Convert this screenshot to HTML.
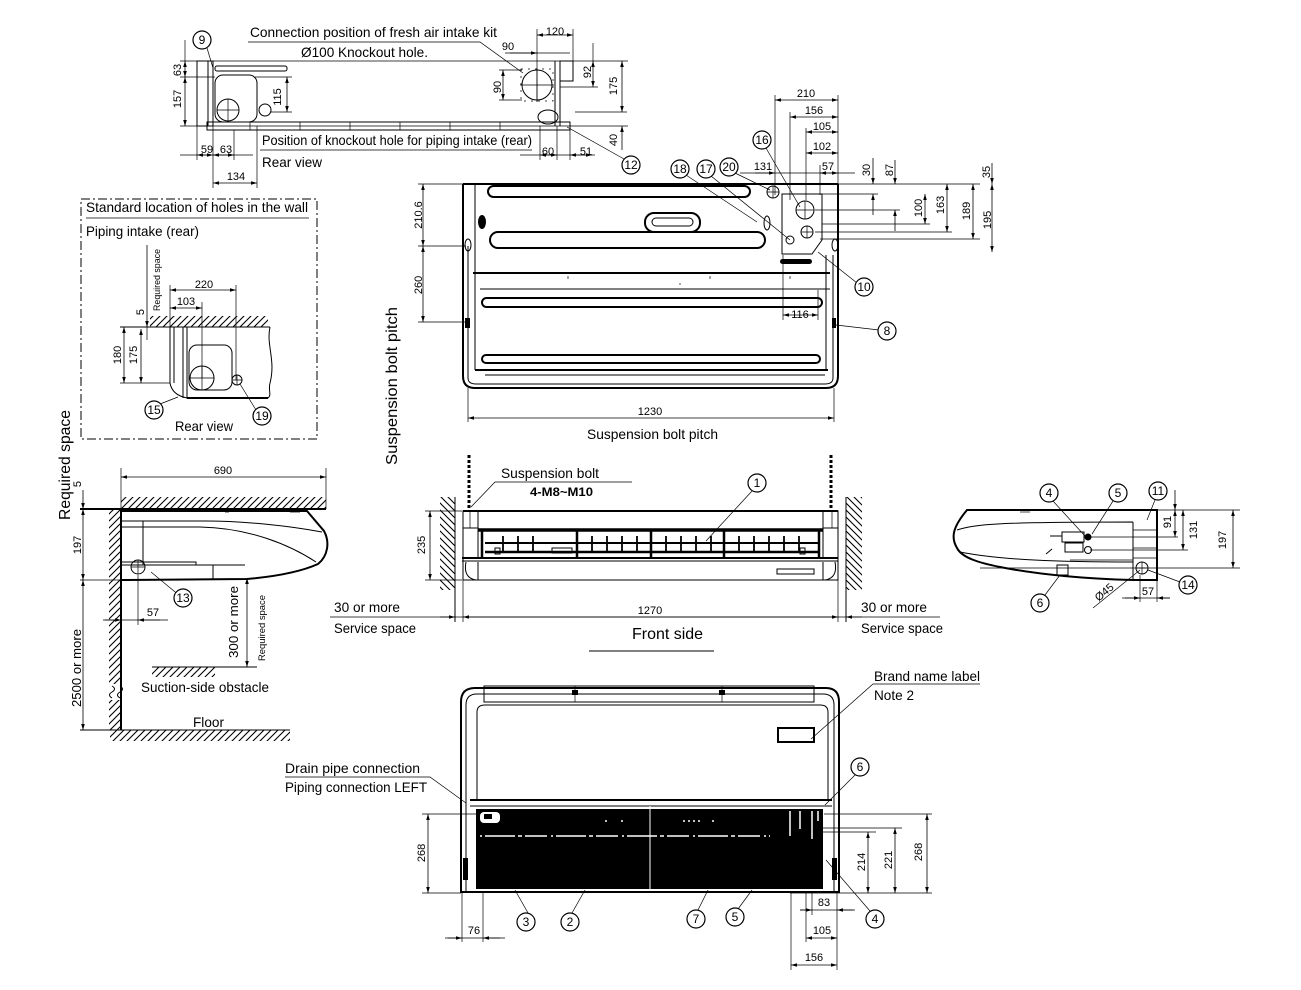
<!DOCTYPE html>
<html><head><meta charset="utf-8">
<style>
html,body{margin:0;padding:0;background:#fff}
svg{display:block}
text{font-family:"Liberation Sans",sans-serif;fill:#000}
.l{stroke:#000;fill:none;stroke-width:1}
.t{stroke:#000;fill:none;stroke-width:2}
.h{stroke:#000;fill:none;stroke-width:0.7}
.d{stroke:#000;fill:none;stroke-width:0.8;marker-start:url(#ar);marker-end:url(#ar)}
.e{stroke:#000;fill:none;stroke-width:0.8;marker-end:url(#ar)}
.n{font-size:11px;text-anchor:middle}
.lb{font-size:14px}
.c circle{fill:#fff;stroke:#000;stroke-width:1.2}
.c text{font-size:12px;text-anchor:middle}
</style></head><body>
<svg width="1301" height="990" viewBox="0 0 1301 990" xmlns="http://www.w3.org/2000/svg">
<defs>
<marker id="ar" viewBox="0 0 10 10" refX="10" refY="5" markerWidth="6" markerHeight="6" orient="auto-start-reverse" markerUnits="userSpaceOnUse"><path d="M0,2 L10,5 L0,8 z" fill="#000"/></marker>
<pattern id="hp" width="7" height="7" patternUnits="userSpaceOnUse"><path d="M0,7 L7,0 M-1,1 L1,-1 M6,8 L8,6" stroke="#000" stroke-width="1.1"/></pattern>
<pattern id="hq" width="7" height="7" patternUnits="userSpaceOnUse"><path d="M0,0 L7,7 M-1,6 L1,8 M6,-1 L8,1" stroke="#000" stroke-width="1.1"/></pattern>
</defs>

<!-- ================= TOP REAR VIEW ================= -->
<line class="h" x1="180" y1="61" x2="628" y2="61"/>
<line class="h" x1="180" y1="126" x2="628" y2="126"/>
<line class="h" x1="180" y1="77" x2="215" y2="77"/>
<rect class="l" x="197" y="61" width="16" height="65"/>
<line class="l" x1="208" y1="61" x2="208" y2="126"/>
<rect class="l" x="215" y="75" width="42" height="47" rx="8"/>
<rect class="l" x="215" y="66" width="72" height="5" rx="2"/>
<circle class="l" cx="228" cy="110" r="11"/>
<path class="h" d="M217,110 H239 M228,99 V121"/>
<circle class="l" cx="265" cy="110" r="6"/>
<rect class="l" x="207" y="122" width="363" height="8"/>
<path class="h" d="M250,122 v8 M300,122 v8 M350,122 v8 M400,122 v8 M450,122 v8 M500,122 v8"/>
<path class="l" d="M555,61 V126 M560,61 V126"/>
<rect class="l" x="560" y="61" width="13" height="20"/>
<ellipse class="l" cx="548" cy="117" rx="10" ry="7"/>
<circle class="l" cx="537" cy="85" r="15"/>
<path class="h" d="M520,85 H554 M537,68 V102"/>
<rect class="h" x="521" y="69" width="32" height="32" stroke-dasharray="2,5"/>
<!-- dims -->
<line class="h" x1="185" y1="40" x2="185" y2="61"/>
<line class="d" x1="185" y1="61" x2="185" y2="77"/>
<line class="d" x1="185" y1="77" x2="185" y2="126"/>
<line class="d" x1="287" y1="77" x2="287" y2="112"/>
<line class="h" x1="255" y1="77" x2="292" y2="77"/>
<line class="h" x1="270" y1="112" x2="292" y2="112"/>
<line class="d" x1="503" y1="70" x2="503" y2="100"/>
<line class="h" x1="499" y1="70" x2="522" y2="70"/>
<line class="h" x1="499" y1="100" x2="522" y2="100"/>
<line class="d" x1="593" y1="61" x2="593" y2="87"/>
<line class="h" x1="593" y1="43" x2="593" y2="61"/>
<line class="h" x1="560" y1="87" x2="598" y2="87"/>
<line class="d" x1="622" y1="61" x2="622" y2="112"/>
<line class="h" x1="575" y1="112" x2="627" y2="112"/>
<line class="e" x1="622" y1="150" x2="622" y2="126"/>
<line class="d" x1="537" y1="35" x2="573" y2="35"/>
<line class="h" x1="537" y1="29" x2="537" y2="102"/>
<line class="h" x1="573" y1="29" x2="573" y2="61"/>
<line class="h" x1="505" y1="53" x2="570" y2="53"/>
<line class="e" x1="510" y1="53" x2="537" y2="53"/>
<line class="h" x1="180" y1="155" x2="253" y2="155"/>
<line class="d" x1="197" y1="155" x2="213" y2="155"/>
<line class="d" x1="213" y1="155" x2="234" y2="155"/>
<path class="h" d="M197,126 V160 M213,126 V188 M234,130 V160 M257,126 V188"/>
<line class="d" x1="213" y1="183" x2="257" y2="183"/>
<line class="h" x1="520" y1="155" x2="595" y2="155"/>
<line class="d" x1="540" y1="155" x2="557" y2="155"/>
<line class="d" x1="570" y1="155" x2="592" y2="155"/>
<path class="h" d="M540,126 V160 M557,126 V160 M570,126 V160"/>
<!-- labels -->
<text class="lb" x="250" y="37" textLength="247" lengthAdjust="spacingAndGlyphs">Connection position of fresh air intake kit</text>
<path class="h" d="M248,42 H480 L523,73"/>
<text class="lb" x="301" y="57" textLength="127" lengthAdjust="spacingAndGlyphs">Ø100 Knockout hole.</text>
<text class="lb" x="262" y="145" textLength="270" lengthAdjust="spacingAndGlyphs">Position of knockout hole for piping intake (rear)</text>
<line class="h" x1="260" y1="150" x2="532" y2="150"/>
<text class="lb" x="262" y="167" textLength="60" lengthAdjust="spacingAndGlyphs">Rear view</text>
<text class="n" x="555" y="35">120</text>
<text class="n" x="508" y="50">90</text>
<text class="n" x="207" y="153">59</text>
<text class="n" x="226" y="153">63</text>
<text class="n" x="236" y="180">134</text>
<text class="n" x="548" y="155">60</text>
<text class="n" x="586" y="155">51</text>
<text class="n" transform="translate(177,70) rotate(-90)" dy="4">63</text>
<text class="n" transform="translate(177,99) rotate(-90)" dy="4">157</text>
<text class="n" transform="translate(277,97) rotate(-90)" dy="4">115</text>
<text class="n" transform="translate(497,87) rotate(-90)" dy="4">90</text>
<text class="n" transform="translate(587,72) rotate(-90)" dy="4">92</text>
<text class="n" transform="translate(613,86) rotate(-90)" dy="4">175</text>
<text class="n" transform="translate(613,140) rotate(-90)" dy="4">40</text>
<line class="h" x1="207" y1="48" x2="213" y2="68"/>
<g class="c"><circle cx="202" cy="40" r="9"/><text x="202" y="44">9</text></g>
<line class="h" x1="624" y1="159" x2="567" y2="127"/>
<g class="c"><circle cx="631" cy="165" r="9"/><text x="631" y="169" font-size="11">12</text></g>

<!-- ================= MAIN TOP VIEW ================= -->
<line class="t" x1="463" y1="184" x2="838" y2="184"/>
<path class="t" d="M463,184 V376 Q463,388 475,388 H826 Q838,388 838,376 V184"/>
<path class="l" d="M468,246 V378 Q468,384 476,384 H825 Q833,384 833,378 V255"/>
<path class="l" d="M475,184 V370 M826,255 V370"/>
<rect class="t" x="488" y="186" width="262" height="11" rx="5.5"/>
<rect class="t" x="490" y="232" width="275" height="16" rx="8"/>
<rect class="t" x="645" y="213" width="55" height="19" rx="9"/>
<rect class="l" x="652" y="218" width="41" height="8" rx="4"/>
<line class="t" x1="473" y1="273" x2="830" y2="273"/>
<line class="l" x1="480" y1="289" x2="830" y2="289"/>
<rect class="t" x="482" y="298" width="340" height="9" rx="4.5"/>
<rect class="t" x="482" y="355" width="338" height="8" rx="4"/>
<line class="t" x1="475" y1="370" x2="828" y2="370"/>
<line class="l" x1="485" y1="375" x2="825" y2="375"/>
<path class="h" d="M568,276 v3 M710,276 v3 M790,276 v3 M680,283 v2"/>
<ellipse cx="482" cy="222" rx="4" ry="7" fill="#000"/>
<ellipse class="l" cx="468" cy="245" rx="3" ry="6"/>
<rect x="465" y="318" width="5" height="10" fill="#000"/>
<ellipse class="l" cx="767" cy="223" rx="3" ry="7"/>
<ellipse class="l" cx="835" cy="245" rx="3" ry="6"/>
<rect x="832" y="318" width="4" height="10" fill="#000"/>
<!-- piping bracket -->
<path class="l" d="M782,194 H822 V240 L812,254 H782 Z"/>
<circle class="l" cx="805" cy="210" r="9"/>
<path class="h" d="M796,210 H814 M805,201 V219"/>
<circle class="l" cx="807" cy="232" r="6"/>
<path class="h" d="M801,232 H813 M807,226 V238"/>
<circle class="l" cx="773" cy="192" r="6"/>
<path class="h" d="M767,192 H779 M773,186 V198"/>
<circle class="l" cx="790" cy="240" r="4"/>
<rect x="780" y="259" width="32" height="5" rx="2.5" fill="#000"/>
<!-- dims right -->
<path class="h" d="M775,95 V195 M790,112 V200 M806,128 V200 M820,165 V195 M838,95 V184"/>
<line class="d" x1="775" y1="100" x2="838" y2="100"/>
<line class="d" x1="790" y1="117" x2="838" y2="117"/>
<line class="d" x1="806" y1="132" x2="838" y2="132"/>
<line class="d" x1="806" y1="153" x2="838" y2="153"/>
<line class="h" x1="740" y1="173" x2="855" y2="173"/>
<line class="d" x1="820" y1="173" x2="838" y2="173"/>
<line class="e" x1="755" y1="173" x2="775" y2="173"/>
<path class="h" d="M838,184 H980 M822,194 H878 M815,210 H900 M822,224 H930 M815,232 H952 M820,239 H980"/>
<line class="e" x1="873" y1="158" x2="873" y2="184"/>
<line class="e" x1="873" y1="215" x2="873" y2="194"/>
<line class="e" x1="895" y1="160" x2="895" y2="184"/>
<line class="e" x1="895" y1="231" x2="895" y2="210"/>
<line class="d" x1="925" y1="194" x2="925" y2="224"/>
<line class="d" x1="947" y1="184" x2="947" y2="232"/>
<line class="d" x1="973" y1="184" x2="973" y2="239"/>
<line class="e" x1="992" y1="163" x2="992" y2="184"/>
<line class="d" x1="992" y1="184" x2="992" y2="252"/>
<text class="n" x="806" y="97">210</text>
<text class="n" x="814" y="114">156</text>
<text class="n" x="822" y="130">105</text>
<text class="n" x="822" y="150">102</text>
<text class="n" x="828" y="170">57</text>
<text class="n" x="763" y="170">131</text>
<text class="n" transform="translate(866,170) rotate(-90)" dy="4">30</text>
<text class="n" transform="translate(889,170) rotate(-90)" dy="4">87</text>
<text class="n" transform="translate(918,208) rotate(-90)" dy="4">100</text>
<text class="n" transform="translate(940,205) rotate(-90)" dy="4">163</text>
<text class="n" transform="translate(966,211) rotate(-90)" dy="4">189</text>
<text class="n" transform="translate(986,172) rotate(-90)" dy="4">35</text>
<text class="n" transform="translate(987,220) rotate(-90)" dy="4">195</text>
<path class="h" d="M783,255 V320 M818,290 V320"/>
<line class="d" x1="783" y1="315" x2="818" y2="315"/>
<text class="n" x="800" y="318">116</text>
<!-- left dims -->
<path class="h" d="M418,184 H463 M418,246 H466 M418,322 H466"/>
<line class="d" x1="423" y1="184" x2="423" y2="246"/>
<line class="d" x1="423" y1="246" x2="423" y2="322"/>
<text class="n" transform="translate(418,215) rotate(-90)" dy="4">210.6</text>
<text class="n" transform="translate(418,285) rotate(-90)" dy="4">260</text>
<path class="h" d="M468,388 V422 M834,388 V422"/>
<line class="d" x1="468" y1="418" x2="834" y2="418"/>
<text class="n" x="650" y="415">1230</text>
<text class="lb" x="587" y="439" textLength="131" lengthAdjust="spacingAndGlyphs">Suspension bolt pitch</text>
<text transform="translate(397,386) rotate(-90)" text-anchor="middle" font-size="16" textLength="158" lengthAdjust="spacingAndGlyphs">Suspension bolt pitch</text>
<!-- leaders -->
<path class="h" d="M686,175 L757,222 M711,176 L790,240 M735,173 L770,190 M766,148 L800,207 M857,283 L818,252 M879,330 L836,325"/>
<g class="c"><circle cx="680" cy="169" r="9"/><text x="680" y="173" font-size="11">18</text></g>
<g class="c"><circle cx="706" cy="169" r="9"/><text x="706" y="173" font-size="11">17</text></g>
<g class="c"><circle cx="729" cy="167" r="9"/><text x="729" y="171" font-size="11">20</text></g>
<g class="c"><circle cx="762" cy="140" r="9"/><text x="762" y="144" font-size="11">16</text></g>
<g class="c"><circle cx="864" cy="287" r="9"/><text x="864" y="291" font-size="11">10</text></g>
<g class="c"><circle cx="887" cy="331" r="9"/><text x="887" y="335">8</text></g>

<!-- ================= STANDARD LOCATION BOX ================= -->
<rect class="l" x="81" y="199" width="236" height="240" stroke-dasharray="9,3,2,3"/>
<text class="lb" x="86" y="212" textLength="222" lengthAdjust="spacingAndGlyphs">Standard location of holes in the wall</text>
<line class="h" x1="86" y1="218" x2="309" y2="218"/>
<text class="lb" x="86" y="236" textLength="113" lengthAdjust="spacingAndGlyphs">Piping intake (rear)</text>
<rect x="150" y="316" width="118" height="11" fill="url(#hp)"/>
<line class="l" x1="120" y1="327" x2="270" y2="327"/>
<path class="l" d="M270,327 C266,345 276,360 270,383 C268,390 272,395 268,398"/>
<line class="h" x1="120" y1="383" x2="170" y2="383"/>
<path class="l" d="M170,327 V383 Q172,395 187,398 M174,327 V383 M183,327 V398 M187,327 V398"/>
<line class="t" x1="187" y1="398" x2="268" y2="398"/>
<rect class="l" x="189" y="345" width="43" height="45" rx="8"/>
<circle class="l" cx="202" cy="378" r="12"/>
<path class="h" d="M190,378 H214 M202,366 V390"/>
<circle class="l" cx="237" cy="380" r="5"/>
<path class="h" d="M232,380 H242 M237,375 V385"/>
<path class="h" d="M170,285 V327 M236,285 V380 M202,302 V378"/>
<line class="d" x1="170" y1="290" x2="236" y2="290"/>
<line class="d" x1="170" y1="308" x2="202" y2="308"/>
<text class="n" x="204" y="288">220</text>
<text class="n" x="186" y="305">103</text>
<line class="e" x1="147" y1="245" x2="147" y2="327"/>
<line class="h" x1="147" y1="327" x2="147" y2="340"/>
<text class="n" transform="translate(140,312) rotate(-90)" dy="4">5</text>
<text transform="translate(157,280) rotate(-90)" text-anchor="middle" font-size="9" dy="3" textLength="62" lengthAdjust="spacingAndGlyphs">Required space</text>
<line class="d" x1="124" y1="327" x2="124" y2="383"/>
<line class="d" x1="141" y1="329" x2="141" y2="383"/>
<text class="n" transform="translate(117,355) rotate(-90)" dy="4">180</text>
<text class="n" transform="translate(133,355) rotate(-90)" dy="4">175</text>
<path class="h" d="M160,404 L178,397 M256,410 L240,384"/>
<g class="c"><circle cx="154" cy="410" r="9"/><text x="154" y="414" font-size="11">15</text></g>
<g class="c"><circle cx="262" cy="416" r="9"/><text x="262" y="420" font-size="11">19</text></g>
<text class="lb" x="175" y="431" textLength="58" lengthAdjust="spacingAndGlyphs">Rear view</text>

<text transform="translate(70,465) rotate(-90)" text-anchor="middle" font-size="16" textLength="110" lengthAdjust="spacingAndGlyphs">Required space</text>

<!-- ================= SIDE VIEW (LEFT) ================= -->
<path class="h" d="M121,468 V509 M326,468 V509"/>
<line class="d" x1="121" y1="477" x2="326" y2="477"/>
<text class="n" x="223" y="474">690</text>
<rect x="121" y="497" width="205" height="12" fill="url(#hp)"/>
<line class="t" x1="80" y1="509" x2="326" y2="509"/>
<rect x="109" y="509" width="12" height="221" fill="url(#hp)"/>
<rect x="105" y="684" width="18" height="16" fill="#fff"/>
<path class="l" d="M112,686 q5,3 0,6 q-5,3 0,6 M120,686 q5,3 0,6 q-5,3 0,6"/>
<line class="t" x1="121" y1="509" x2="121" y2="730"/>
<path class="t" d="M121,511 L307,511 L324,531 C330,542 328,556 318,564 C298,573 270,577 247,579 L121,580"/>
<path class="l" d="M121,521 L205,521 C245,521 290,526 322,532 M121,527 L200,527 C250,528 290,545 316,562"/>
<path class="l" d="M121,562 H196 V565 M121,565 H245 M213,565 V580 M143,521 V565"/>
<path class="h" d="M290,512 h10 M225,512 h4"/>
<circle class="l" cx="138" cy="567" r="7"/>
<path class="h" d="M131,567 H145 M138,560 V574"/>
<path class="h" d="M80,580 H121"/>
<line class="e" x1="83" y1="490" x2="83" y2="509"/>
<line class="d" x1="83" y1="509" x2="83" y2="580"/>
<line class="d" x1="83" y1="580" x2="83" y2="730"/>
<text class="n" transform="translate(77,484) rotate(-90)" dy="4">5</text>
<text class="n" transform="translate(77,545) rotate(-90)" dy="4">197</text>
<text transform="translate(77,668) rotate(-90)" text-anchor="middle" font-size="13" dy="4" textLength="78" lengthAdjust="spacingAndGlyphs">2500 or more</text>
<path class="h" d="M138,575 V625 M103,620 H168"/>
<line class="e" x1="105" y1="620" x2="121" y2="620"/>
<line class="e" x1="160" y1="620" x2="138" y2="620"/>
<text class="n" x="153" y="616">57</text>
<path class="h" d="M180,596 L151,572"/>
<g class="c"><circle cx="183" cy="598" r="9"/><text x="183" y="602" font-size="11">13</text></g>
<line class="d" x1="247" y1="578" x2="247" y2="667"/>
<text transform="translate(234,622) rotate(-90)" text-anchor="middle" font-size="13" dy="4" textLength="72" lengthAdjust="spacingAndGlyphs">300 or more</text>
<text transform="translate(262,628) rotate(-90)" text-anchor="middle" font-size="9" dy="3" textLength="66" lengthAdjust="spacingAndGlyphs">Required space</text>
<rect x="152" y="667" width="63" height="10" fill="url(#hp)"/>
<line class="l" x1="152" y1="667" x2="257" y2="667"/>
<text class="lb" x="141" y="692" textLength="128" lengthAdjust="spacingAndGlyphs">Suction-side obstacle</text>
<text class="lb" x="193" y="727" textLength="31" lengthAdjust="spacingAndGlyphs">Floor</text>
<line class="l" x1="80" y1="730" x2="290" y2="730"/>
<rect x="110" y="730" width="180" height="11" fill="url(#hp)"/>

<!-- ================= FRONT VIEW ================= -->
<line x1="469" y1="455" x2="469" y2="512" stroke="#000" stroke-width="3" stroke-dasharray="3,2"/>
<line x1="831" y1="455" x2="831" y2="512" stroke="#000" stroke-width="3" stroke-dasharray="3,2"/>
<rect x="440" y="497" width="15" height="93" fill="url(#hq)"/>
<line class="l" x1="455" y1="497" x2="455" y2="622"/>
<rect x="846" y="497" width="16" height="93" fill="url(#hq)"/>
<line class="l" x1="846" y1="497" x2="846" y2="622"/>
<path class="l" d="M463,511 H838 V580 H463 Z"/>
<line x1="463" y1="511" x2="838" y2="511" stroke="#000" stroke-width="2"/>
<path class="l" d="M478,511 V558 M823,511 V558 M463,528 H478 M823,528 H838"/>
<line x1="478" y1="530" x2="823" y2="530" stroke="#000" stroke-width="3.5"/>
<line x1="485" y1="543" x2="820" y2="543" stroke="#000" stroke-width="2"/>
<line x1="485" y1="552" x2="820" y2="552" stroke="#000" stroke-width="2.5"/>
<line x1="462" y1="558" x2="838" y2="558" stroke="#000" stroke-width="2"/>
<line x1="462" y1="561" x2="838" y2="561" stroke="#000" stroke-width="1"/>
<path d="M482,530 V557 M577,530 V557 M651,530 V557 M724,530 V557 M819,530 V557" stroke="#000" stroke-width="2.5"/>
<path d="M503,536v17 M518,536v17 M533,536v17 M592,536v17 M607,536v17 M622,536v17 M637,536v17 M666,536v17 M681,536v17 M696,536v17 M711,536v17 M739,536v17 M754,536v17 M769,536v17 M784,536v17 M799,536v17" stroke="#000" stroke-width="1.8"/>
<rect class="l" x="495" y="548" width="5" height="6"/>
<rect class="l" x="552" y="548" width="20" height="5"/>
<rect class="l" x="800" y="548" width="5" height="6"/>
<path class="l" d="M466,562 Q463,578 476,580 M835,562 Q838,578 825,580 M478,562 V580 M823,562 V580"/>
<path class="h" d="M470,512 v16 M832,512 v16"/>
<rect class="l" x="777" y="569" width="37" height="5"/>
<path class="h" d="M425,511 H462 M425,580 H462"/>
<line class="d" x1="430" y1="511" x2="430" y2="580"/>
<text class="n" transform="translate(421,545) rotate(-90)" dy="4">235</text>
<text class="lb" x="501" y="478" textLength="98" lengthAdjust="spacingAndGlyphs">Suspension bolt</text>
<path class="h" d="M632,482 H495 L471,507"/>
<text x="530" y="496" font-size="12" font-weight="bold" textLength="63" lengthAdjust="spacingAndGlyphs">4-M8~M10</text>
<path class="h" d="M752,491 L706,541"/>
<g class="c"><circle cx="757" cy="483" r="9"/><text x="757" y="487">1</text></g>
<path class="h" d="M463,580 V622 M838,580 V622"/>
<line class="h" x1="330" y1="617" x2="940" y2="617"/>
<line class="d" x1="463" y1="617" x2="838" y2="617"/>
<line class="e" x1="440" y1="617" x2="455" y2="617"/>
<line class="e" x1="862" y1="617" x2="846" y2="617"/>
<text class="n" x="650" y="614">1270</text>
<text class="lb" x="334" y="612" textLength="66" lengthAdjust="spacingAndGlyphs">30 or more</text>
<text class="lb" x="334" y="633" textLength="82" lengthAdjust="spacingAndGlyphs">Service space</text>
<text class="lb" x="861" y="612" textLength="66" lengthAdjust="spacingAndGlyphs">30 or more</text>
<text class="lb" x="861" y="633" textLength="82" lengthAdjust="spacingAndGlyphs">Service space</text>
<text x="632" y="639" font-size="16" textLength="71" lengthAdjust="spacingAndGlyphs">Front side</text>
<line class="l" x1="589" y1="651" x2="714" y2="651"/>

<!-- ================= RIGHT SIDE VIEW ================= -->
<path class="t" d="M967,510 L1157,510 L1157,580 L1133,580 C1090,579 1040,575 1000,567 C980,563 962,558 957,548 C951,538 952,528 967,510 Z"/>
<path class="l" d="M957,530 C975,524 1000,522 1133,522 M960,552 C1000,560 1060,562 1133,562 M1133,522 V580"/>
<path class="h" d="M1133,530 H1157 M1133,548 H1157 M1133,558 H1157"/>
<path class="h" d="M1020,512 h10"/>
<rect class="l" x="1062" y="532" width="22" height="10"/>
<rect class="l" x="1065" y="543" width="18" height="9"/>
<path class="l" d="M1050,536 h12 M1052,549 l-6,5"/>
<circle cx="1088" cy="537" r="3.5" fill="#000"/>
<circle class="l" cx="1088" cy="550" r="3.5"/>
<rect class="l" x="1057" y="565" width="11" height="10"/>
<path class="h" d="M1090,537 H1178 M1090,550 H1188 M1070,560 H1133 M980,568 H1240 M1157,510 H1240"/>
<circle class="l" cx="1142" cy="568" r="6"/>
<path class="h" d="M1136,568 H1148 M1142,562 V574"/>
<line class="e" x1="1175" y1="490" x2="1175" y2="510"/>
<line class="d" x1="1175" y1="510" x2="1175" y2="537"/>
<line class="d" x1="1183" y1="510" x2="1183" y2="550"/>
<line class="d" x1="1233" y1="510" x2="1233" y2="568"/>
<text class="n" transform="translate(1167,522) rotate(-90)" dy="4">91</text>
<text class="n" transform="translate(1193,530) rotate(-90)" dy="4">131</text>
<text class="n" transform="translate(1222,540) rotate(-90)" dy="4">197</text>
<path class="h" d="M1140,575 V602 M1157,580 V602 M1122,598 H1170"/>
<line class="e" x1="1125" y1="598" x2="1140" y2="598"/>
<line class="e" x1="1170" y1="598" x2="1157" y2="598"/>
<text class="n" x="1148" y="595">57</text>
<line class="h" x1="1093" y1="608" x2="1140" y2="570"/>
<text class="n" transform="translate(1104,592) rotate(-40)" dy="4">Ø45</text>
<path class="h" d="M1053,501 L1085,536 M1113,501 L1092,534 M1155,500 L1147,520 M1045,595 L1060,575 M1180,582 L1148,570"/>
<g class="c"><circle cx="1049" cy="493" r="9"/><text x="1049" y="497">4</text></g>
<g class="c"><circle cx="1118" cy="493" r="9"/><text x="1118" y="497">5</text></g>
<g class="c"><circle cx="1158" cy="491" r="9"/><text x="1158" y="495" font-size="11">11</text></g>
<g class="c"><circle cx="1040" cy="603" r="9"/><text x="1040" y="607">6</text></g>
<g class="c"><circle cx="1188" cy="585" r="9"/><text x="1188" y="589" font-size="11">14</text></g>

<!-- ================= BOTTOM VIEW ================= -->
<rect class="l" x="484" y="686" width="330" height="16"/>
<path class="h" d="M575,686 v16 M722,686 v16"/>
<rect x="572" y="690" width="6" height="5" fill="#000"/>
<rect x="719" y="690" width="6" height="5" fill="#000"/>
<path class="t" d="M461,893 L461,702 Q461,688 475,688 L826,688 Q839,688 839,702 L839,893"/>
<path class="l" d="M466,893 L466,705 Q466,694 477,694 L823,694 Q834,694 834,705 L834,893"/>
<path class="l" d="M477,800 L477,712 Q477,705 485,705 L820,705 Q828,705 828,712 L828,800"/>
<line class="t" x1="470" y1="800" x2="832" y2="800"/>
<line class="l" x1="470" y1="806" x2="832" y2="806"/>
<rect x="476" y="809" width="347" height="80" fill="#000"/>
<line x1="480" y1="836" x2="770" y2="836" stroke="#fff" stroke-width="1.5" stroke-dasharray="2,3,30,3,4,3,22,4"/>
<line x1="605" y1="821" x2="720" y2="821" stroke="#fff" stroke-width="1.5" stroke-dasharray="2,14,2,60,2,3,2,3,2,3,2,12"/>
<rect x="480" y="812" width="20" height="11" rx="4" fill="#fff"/>
<rect x="484" y="814" width="8" height="5" fill="#000"/>
<path d="M790,811 v25 M800,811 v18 M812,811 v28 M818,811 v10" stroke="#fff" stroke-width="1.5"/>
<line x1="650" y1="806" x2="650" y2="893" stroke="#fff" stroke-width="1"/>
<line class="t" x1="461" y1="892" x2="839" y2="892"/>
<rect x="463" y="858" width="5" height="22" fill="#000"/>
<rect x="832" y="858" width="5" height="22" fill="#000"/>
<rect class="t" x="778" y="728" width="36" height="14"/>
<text class="lb" x="874" y="681" textLength="106" lengthAdjust="spacingAndGlyphs">Brand name label</text>
<path class="h" d="M980,684 H873 L811,739"/>
<text class="lb" x="874" y="700" textLength="40" lengthAdjust="spacingAndGlyphs">Note 2</text>
<text class="lb" x="285" y="773" textLength="135" lengthAdjust="spacingAndGlyphs">Drain pipe connection</text>
<path class="h" d="M285,777 H430 L466,803"/>
<text class="lb" x="285" y="792" textLength="142" lengthAdjust="spacingAndGlyphs">Piping connection LEFT</text>
<path class="h" d="M855,775 L825,805"/>
<g class="c"><circle cx="860" cy="767" r="9"/><text x="860" y="771">6</text></g>
<!-- dims -->
<path class="h" d="M422,814 H476 M422,893 H461"/>
<line class="d" x1="428" y1="814" x2="428" y2="893"/>
<text class="n" transform="translate(421,853) rotate(-90)" dy="4">268</text>
<path class="h" d="M824,814 H932 M815,828 H902 M815,832 H876 M790,893 H932"/>
<line class="d" x1="868" y1="832" x2="868" y2="893"/>
<line class="d" x1="895" y1="828" x2="895" y2="893"/>
<line class="d" x1="927" y1="814" x2="927" y2="893"/>
<text class="n" transform="translate(861,862) rotate(-90)" dy="4">214</text>
<text class="n" transform="translate(888,860) rotate(-90)" dy="4">221</text>
<text class="n" transform="translate(918,852) rotate(-90)" dy="4">268</text>
<path class="h" d="M462,893 V942 M483,893 V942 M445,938 H505"/>
<line class="e" x1="448" y1="938" x2="462" y2="938"/>
<line class="e" x1="500" y1="938" x2="483" y2="938"/>
<text class="n" x="474" y="934">76</text>
<path class="h" d="M791,893 V970 M812,893 V915 M806,893 V942 M837,893 V970 M800,910 H855"/>
<line class="e" x1="800" y1="910" x2="812" y2="910"/>
<line class="e" x1="853" y1="910" x2="837" y2="910"/>
<text class="n" x="824" y="906">83</text>
<line class="d" x1="806" y1="938" x2="837" y2="938"/>
<text class="n" x="822" y="934">105</text>
<line class="d" x1="791" y1="965" x2="837" y2="965"/>
<text class="n" x="814" y="961">156</text>
<path class="h" d="M528,913 L515,890 M572,913 L585,890 M698,910 L708,890 M738,909 L752,890 M870,911 L826,860"/>
<g class="c"><circle cx="526" cy="922" r="9"/><text x="526" y="926">3</text></g>
<g class="c"><circle cx="570" cy="922" r="9"/><text x="570" y="926">2</text></g>
<g class="c"><circle cx="696" cy="919" r="9"/><text x="696" y="923">7</text></g>
<g class="c"><circle cx="735" cy="917" r="9"/><text x="735" y="921">5</text></g>
<g class="c"><circle cx="875" cy="919" r="9"/><text x="875" y="923">4</text></g>
</svg>
</body></html>
